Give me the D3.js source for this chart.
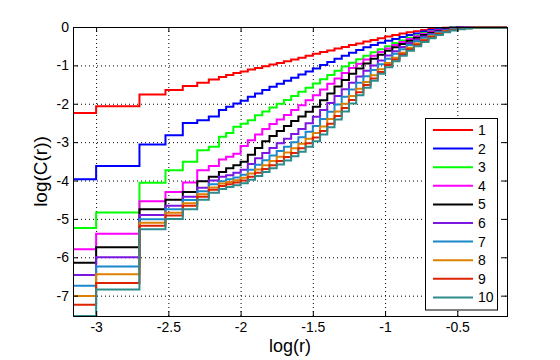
<!DOCTYPE html>
<html><head><meta charset="utf-8">
<script src="https://cdn.jsdelivr.net/npm/d3@7/dist/d3.min.js"></script>
<style>
body{margin:0;background:#fff;}
svg{display:block;}
text{font-family:Arial,"Liberation Sans",Helvetica,sans-serif;}
</style></head>
<body><svg id="c" width="560" height="360"></svg>
<script>
// log(r) breakpoints (staircase thresholds, then finer sampling)
const logR = [-3.16,-3.0,-2.7,-2.52,-2.4,-2.3,-2.22,-2.15,-2.1,-2.05,
  -2.0,-1.95,-1.9,-1.85,-1.8,-1.75,-1.7,-1.65,-1.6,-1.55,-1.5,-1.45,-1.4,-1.35,-1.3,-1.25,-1.2,-1.15,-1.1,-1.05,
  -1.0,-0.95,-0.9,-0.85,-0.8,-0.75,-0.7,-0.65,-0.6,-0.55,-0.5,-0.45,-0.4,-0.156];

const dim1 = [-2.24,-2.065,-1.76,-1.64,-1.54,-1.45,-1.37,-1.30,-1.25,-1.20,
  -1.16,-1.11,-1.07,-1.02,-0.98,-0.94,-0.89,-0.85,-0.80,-0.75,-0.70,-0.65,-0.61,-0.56,-0.52,-0.47,-0.43,-0.38,-0.34,-0.29,
  -0.25,-0.21,-0.17,-0.14,-0.11,-0.08,-0.05,-0.03,-0.02,-0.01,0,0,0,0];
const dim2 = [-3.97,-3.62,-3.06,-2.82,-2.50,-2.43,-2.33,-2.16,-2.08,-1.99,
  -1.92,-1.82,-1.73,-1.64,-1.56,-1.48,-1.40,-1.32,-1.24,-1.16,-1.08,-0.99,-0.91,-0.83,-0.75,-0.67,-0.60,-0.53,-0.47,-0.41,
  -0.36,-0.31,-0.26,-0.21,-0.17,-0.12,-0.08,-0.05,-0.03,-0.01,0,0,0,0];
const dim3 = [-5.24,-4.83,-4.06,-3.73,-3.51,-3.21,-3.12,-2.86,-2.76,-2.60,
  -2.52,-2.43,-2.30,-2.20,-2.10,-2.00,-1.90,-1.80,-1.69,-1.58,-1.47,-1.36,-1.25,-1.14,-1.03,-0.93,-0.84,-0.75,-0.66,-0.58,
  -0.50,-0.42,-0.35,-0.28,-0.22,-0.16,-0.11,-0.07,-0.04,-0.02,-0.01,0,0,0];
const dim4 = [-5.79,-5.39,-4.54,-4.30,-4.05,-3.73,-3.62,-3.45,-3.38,-3.30,
  -3.10,-2.95,-2.80,-2.66,-2.53,-2.41,-2.29,-2.16,-2.04,-1.91,-1.78,-1.63,-1.48,-1.34,-1.20,-1.07,-0.96,-0.85,-0.75,-0.65,
  -0.56,-0.47,-0.39,-0.31,-0.24,-0.18,-0.12,-0.08,-0.05,-0.03,-0.01,0,0,0];
const dim5 = [-6.14,-5.74,-4.75,-4.50,-4.30,-4.02,-3.90,-3.78,-3.68,-3.60,
  -3.51,-3.33,-3.15,-2.98,-2.84,-2.71,-2.58,-2.45,-2.33,-2.21,-2.08,-1.91,-1.73,-1.55,-1.38,-1.22,-1.08,-0.95,-0.83,-0.72,
  -0.62,-0.53,-0.44,-0.36,-0.28,-0.21,-0.15,-0.10,-0.06,-0.03,-0.02,-0.01,0,0];
const dim6 = [-6.46,-6.00,-4.90,-4.66,-4.42,-4.19,-4.00,-3.90,-3.86,-3.80,
  -3.72,-3.57,-3.42,-3.28,-3.15,-3.03,-2.91,-2.79,-2.66,-2.51,-2.34,-2.16,-1.98,-1.80,-1.62,-1.45,-1.29,-1.14,-1.00,-0.87,
  -0.74,-0.63,-0.52,-0.42,-0.33,-0.25,-0.18,-0.12,-0.08,-0.05,-0.03,-0.01,0,0];
const dim7 = [-6.74,-6.24,-5.01,-4.75,-4.51,-4.28,-4.10,-4.02,-3.97,-3.92,
  -3.85,-3.72,-3.59,-3.47,-3.35,-3.23,-3.12,-3.00,-2.87,-2.73,-2.58,-2.40,-2.21,-2.02,-1.82,-1.63,-1.45,-1.28,-1.12,-0.97,
  -0.83,-0.70,-0.58,-0.47,-0.37,-0.28,-0.20,-0.14,-0.09,-0.06,-0.03,-0.02,-0.01,0];
const dim8 = [-7.01,-6.44,-5.10,-4.84,-4.59,-4.36,-4.18,-4.08,-4.04,-3.99,
  -3.93,-3.82,-3.71,-3.60,-3.49,-3.38,-3.27,-3.16,-3.04,-2.91,-2.76,-2.59,-2.40,-2.20,-2.00,-1.80,-1.61,-1.43,-1.26,-1.10,
  -0.94,-0.80,-0.67,-0.54,-0.43,-0.33,-0.24,-0.17,-0.11,-0.07,-0.04,-0.02,-0.01,0];
const dim9 = [-7.24,-6.67,-5.18,-4.91,-4.66,-4.42,-4.24,-4.14,-4.10,-4.05,
  -4.00,-3.90,-3.80,-3.70,-3.60,-3.49,-3.39,-3.28,-3.16,-3.03,-2.88,-2.71,-2.52,-2.32,-2.11,-1.90,-1.70,-1.51,-1.34,-1.17,
  -0.99,-0.85,-0.71,-0.58,-0.46,-0.35,-0.26,-0.18,-0.12,-0.08,-0.05,-0.03,-0.01,0];
const dim10 = [-7.53,-6.84,-5.27,-5.00,-4.75,-4.50,-4.32,-4.22,-4.17,-4.12,
  -4.07,-3.98,-3.88,-3.78,-3.68,-3.58,-3.48,-3.37,-3.25,-3.12,-2.98,-2.80,-2.61,-2.41,-2.20,-1.99,-1.78,-1.58,-1.40,-1.22,
  -1.05,-0.89,-0.75,-0.62,-0.50,-0.39,-0.29,-0.21,-0.14,-0.09,-0.06,-0.04,-0.02,-0.02];

const seriesNames = ["1","2","3","4","5","6","7","8","9","10"];
const seriesValues = [dim1,dim2,dim3,dim4,dim5,dim6,dim7,dim8,dim9,dim10];
const colors = ["#ff0000","#0000ff","#00ff00","#ff00ff","#000000","#7b17e0","#1a88cc","#dd8000","#dd2200","#2e8b8b"];
const xTicks = [-3,-2.5,-2,-1.5,-1,-0.5];
const yTicks = [0,-1,-2,-3,-4,-5,-6,-7];
const xDomain = [-3.16,-0.156];
const yDomain = [-7.53,0];

const svg = d3.select("#c");
const L=73,R=507,T=27,B=316;
const x = d3.scaleLinear().domain(xDomain).range([L,R]);
const y = d3.scaleLinear().domain(yDomain).range([B,T]);

// grid
const g = svg.append("g");
g.selectAll(".gx").data(xTicks).join("line")
  .attr("x1",d=>x(d)+0.5).attr("x2",d=>x(d)+0.5).attr("y1",T).attr("y2",B)
  .attr("stroke","#000").attr("stroke-width",1).attr("stroke-dasharray","1,3");
g.selectAll(".gy").data(yTicks.filter(d=>d!==0)).join("line")
  .attr("y1",d=>y(d)+0.5).attr("y2",d=>y(d)+0.5).attr("x1",L).attr("x2",R)
  .attr("stroke","#000").attr("stroke-width",1).attr("stroke-dasharray","1,3");

// lines
const line = d3.line().x(d=>x(d[0])).y(d=>y(d[1])).curve(d3.curveStepAfter);
seriesValues.forEach((vals,i)=>{
  svg.append("path").datum(logR.map((r,j)=>[r,vals[j]]))
    .attr("d",line).attr("fill","none").attr("stroke",colors[i]).attr("stroke-width",2);
});

// axes
const fmt = d=>String(d);
const ax = (gen,tx,ty,labels)=>{
  const a = svg.append("g").attr("transform",`translate(${tx},${ty})`).call(gen);
  a.select(".domain").remove();
  a.selectAll("line").attr("stroke","#000");
  a.selectAll("text").attr("font-size",14).attr("fill","#000")
    .attr("font-family","Arial, 'Liberation Sans', sans-serif");
  if(!labels) a.selectAll("text").remove();
};
ax(d3.axisBottom(x).tickValues(xTicks).tickSize(-5).tickPadding(6).tickFormat(fmt),0,B,true);
ax(d3.axisTop(x).tickValues(xTicks).tickSize(-5).tickFormat(fmt),0,T,false);
ax(d3.axisLeft(y).tickValues(yTicks).tickSize(-5).tickPadding(4).tickFormat(fmt),L,0,true);
ax(d3.axisRight(y).tickValues(yTicks).tickSize(-5).tickFormat(fmt),R,0,false);

svg.append("rect").attr("x",L+0.5).attr("y",T+0.5).attr("width",R-L).attr("height",B-T)
  .attr("fill","none").attr("stroke","#000").attr("stroke-width",1);

// labels
svg.append("text").attr("x",(L+R)/2).attr("y",352).attr("text-anchor","middle")
  .attr("font-size",18).text("log(r)");
svg.append("text").attr("transform",`translate(47,${(T+B)/2}) rotate(-90)`).attr("text-anchor","middle")
  .attr("font-size",19).text("log(C(r))");

// legend
const lg = svg.append("g");
lg.append("rect").attr("x",425.5).attr("y",118.5).attr("width",72).attr("height",191.5)
  .attr("fill","#fff").attr("stroke","#000").attr("stroke-width",1);
seriesNames.forEach((n,i)=>{
  const yy = 130 + i*18.6;
  lg.append("line").attr("x1",433).attr("x2",473).attr("y1",yy).attr("y2",yy)
    .attr("stroke",colors[i]).attr("stroke-width",2);
  lg.append("text").attr("x",478).attr("y",yy+5).attr("font-size",14).text(n);
});
</script></body></html>
